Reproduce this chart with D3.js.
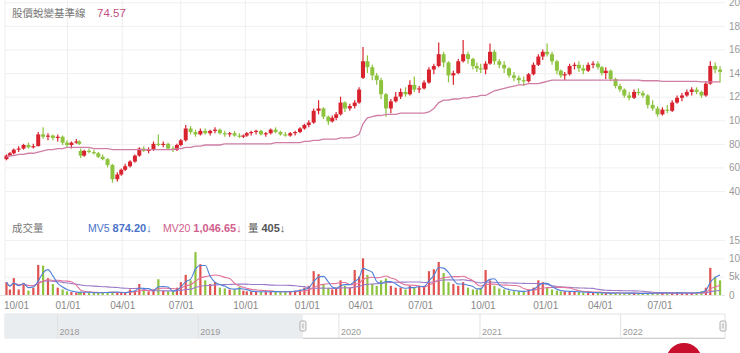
<!DOCTYPE html>
<html><head><meta charset="utf-8">
<script src="https://cdn.jsdelivr.net/npm/d3@7"></script>
<style>
html,body{margin:0;padding:0;background:#fff;overflow:hidden}
svg{display:block;font-family:"Liberation Sans","Noto Sans CJK TC",sans-serif}
</style></head><body>
<svg id="c" width="740" height="353"></svg>
<script>
// ---------- data ----------
const startDate = "2019-10-01", endDate = "2022-09-30", firstWeek = "2019-09-30";
const navStart = "2017-08-19";
const holidays = ["2019-10-10","2019-10-11",
"2020-01-01","2020-01-21","2020-01-22","2020-01-23","2020-01-24","2020-01-27","2020-01-28","2020-01-29","2020-02-28","2020-04-02","2020-04-03","2020-05-01","2020-06-25","2020-06-26","2020-10-01","2020-10-02","2020-10-09",
"2021-01-01","2021-02-08","2021-02-09","2021-02-10","2021-02-11","2021-02-12","2021-02-15","2021-02-16","2021-03-01","2021-04-02","2021-04-05","2021-04-30","2021-06-14","2021-09-20","2021-09-21","2021-10-11","2021-12-31",
"2022-01-27","2022-01-28","2022-01-31","2022-02-01","2022-02-02","2022-02-03","2022-02-04","2022-02-28","2022-04-04","2022-04-05","2022-05-02","2022-06-03","2022-09-09"];
// weekly [open, high, low, close]
const ohlc = [
[67,71,66,70],[70,73,69,72],[72,76,71,75],[75,78,73,76],[76,80,75,79],[79,81,76,77],[77,80,76,78],[78,90,78,88],[88,94,84,86],[86,89,83,87],
[87,88,83,85],[85,88,82,86],[86,87,79,81],[81,83,77,79],[79,82,76,81],[81,84,80,82],[82,83,79,80],[74,76,68,70],[70,75,69,74],[74,76,72,73],
[73,75,71,72],[72,73,68,69],[69,71,66,67],[67,68,60,62],[62,63,47,50],[50,56,48,54],[54,59,53,58],[58,63,57,61],[61,66,60,65],[65,71,64,70],
[70,77,69,76],[76,78,73,74],[74,77,72,75],[75,82,74,80],[80,88,78,79],[79,82,77,80],[80,81,75,76],[76,78,73,75],[75,80,74,79],[79,84,78,83],
[83,96,82,93],[93,95,88,90],[90,92,86,88],[88,93,87,91],[91,93,88,89],[89,92,87,91],[91,94,89,92],[92,93,88,89],[89,91,86,88],[88,90,86,89],
[89,91,86,87],[87,89,85,86],[86,88,85,87],[87,90,86,89],[89,91,87,90],[90,92,88,91],[91,92,87,88],[88,90,86,89],[89,93,88,92],[92,94,89,90],
[90,91,87,88],[88,90,86,87],[87,90,86,89],[89,91,87,90],[90,94,89,93],[93,97,92,96],[96,100,94,98],[98,110,97,108],[108,117,105,110],[110,111,101,103],
[103,104,96,99],null,[99,104,98,102],[102,107,100,105],[105,120,104,115],[115,116,107,110],[110,114,108,112],[112,117,110,115],[115,128,114,126],[136,162,135,150],
[150,155,140,145],[145,147,134,138],[138,140,130,134],[134,136,118,122],[122,123,103,110],[110,118,106,116],[116,124,115,120],[120,127,118,124],[124,128,120,122],[122,134,121,130],
[130,137,124,126],[126,129,123,127],[127,134,126,132],[132,145,131,143],[143,148,139,146],[146,166,145,156],[156,158,145,149],[149,150,132,138],[138,142,130,140],[140,152,139,150],
[150,168,149,156],[156,158,148,152],[152,153,143,146],[146,149,141,144],[144,148,140,143],[143,150,139,148],[148,165,147,158],[158,160,147,150],[150,152,144,147],[147,150,140,144],
[144,145,136,138],[138,141,133,136],[136,138,131,134],[134,137,129,133],[133,140,132,139],[139,149,138,147],[147,156,146,154],[154,160,151,158],[158,165,154,156],[156,158,147,150],
[150,151,139,142],[142,143,136,138],null,[138,141,134,139],[139,148,138,146],[146,149,143,147],[147,150,141,144],[144,147,139,142],[142,149,141,147],[147,150,144,148],
[148,150,143,145],[145,146,138,140],[140,145,135,142],[142,143,133,135],[135,136,127,129],[129,131,124,126],[126,127,119,121],[121,124,117,119],[119,126,118,124],[124,127,121,123],
[123,125,119,121],[121,122,110,113],[113,117,108,110],[110,112,103,105],[105,111,104,109],[109,113,106,108],[108,117,107,115],[115,121,114,119],[119,123,116,121],[121,126,120,124],
[124,128,121,126],[126,128,122,124],[124,125,119,121],[121,133,120,131],[131,150,130,146],[146,149,140,143],[143,146,132,141]];
// baseline (pink) line, weekly
const baseLine = [
69,70,70,71,71,72,72,73,74,75, 75,76,76,77,77,77,77,77,77,77, 76,76,76,76,75,75,75,75,75,75,
75,75,75,75,75,75,75,75,76,76, 77,77,78,78,79,79,79,79,80,80, 80,80,80,80,80,80,80,80,80,81,
81,81,81,81,81,82,82,83,83,84, 84,null,84,84,85,85,85,86,88,97, 102,103,104,104,105,105,105,106,106,106,
106,106,106,107,110,115,117,117,118,118, 119,119,120,120,121,121,123,125,126,127,
128,129,130,130,131,131,131,132,133,134, 134,134,null,134,134,134,134,134,134,134,
134,134,134,134,134,134,134,134,134,134, 133.5,133.5,133.5,133.5,133,133,133,133,133,133,
133,133,132.5,132.5,132.5,132.5,132.5];
// weekly volume (thousand lots)
const volume = [
3.5,1.5,4.6,1.5,3.3,1.2,2.0,8.2,8.0,4.6, 3.0,2.0,1.5,1.0,0.8,0.7,0.6,0.9,0.7,0.6,
0.6,0.7,0.6,0.8,0.9,0.7,0.6,0.6,1.5,1.2, 3.0,1.2,1.0,1.5,4.3,1.2,1.0,1.0,2.0,3.5,
5.5,4.0,11.7,8.4,4.0,3.0,3.5,2.0,1.8,1.5, 1.5,2.2,1.2,1.0,1.0,0.9,0.8,0.9,1.0,0.9,
0.8,0.9,1.0,1.2,1.5,2.0,2.5,6.5,5.7,3.0, 2.0,null,1.5,2.0,4.0,2.5,2.0,6.8,5.0,10.0,
5.5,3.0,2.5,4.0,4.5,2.5,2.0,2.0,1.5,2.5, 2.0,2.5,2.5,6.5,7.0,9.0,6.0,3.5,3.0,2.5,
3.5,2.0,1.5,1.5,2.0,6.8,4.0,2.5,1.8,1.5, 1.2,1.0,1.0,1.0,1.5,2.0,4.0,3.5,2.0,1.5,
1.2,1.0,null,1.0,1.0,0.9,0.8,0.7,0.7,0.6, 0.6,0.5,0.5,0.5,0.6,0.5,0.5,0.5,0.5,0.4,
0.4,0.5,0.5,0.6,0.5,0.5,0.6,0.6,0.5,0.5, 0.6,0.7,1.0,2.0,7.4,5.0,4.0];
const priceTicks = [40,60,80,100,120,140,160,180,200];
const volTicks = [0,5000,10000,15000];
const volTickLabels = ["0","5k","10k","15k"];
const monthTicks = ["2019-10-01","2020-01-01","2020-04-01","2020-07-01","2020-10-01","2021-01-01","2021-04-01","2021-07-01","2021-10-01","2022-01-01","2022-04-01","2022-07-01"];
const navYears = ["2018-01-01","2019-01-01","2020-01-01","2021-01-01","2022-01-01"];
const titleText = "股價蛻變基準線", titleValue = "74.57";
const volLegend = [
 {label:"成交量", value:"", color:"#777"},
 {label:"MV5 ", value:"874.20↓", color:"#4a73c8"},
 {label:"MV20 ", value:"1,046.65↓", color:"#d0608c"},
 {label:"量 ", value:"405↓", color:"#555"}];

// ---------- scales ----------
const parse = d3.timeParse("%Y-%m-%d"), fmt = d3.timeFormat("%Y-%m-%d");
const hol = new Set(holidays);
const days = d3.timeDay.range(parse(startDate), d3.timeDay.offset(parse(endDate),1))
  .filter(d => d.getDay()>0 && d.getDay()<6 && !hol.has(fmt(d)));
const x = d3.scaleLinear().domain([0, days.length-1]).range([5, 722]);
const yP = d3.scaleLinear().domain([40,200]).range([191, 2.3]);
const yV = d3.scaleLinear().domain([0,15000]).range([295, 240]);
const weekIdx = new Map();
days.forEach((d,i)=>{const k=+d3.timeMonday.floor(d); if(!weekIdx.has(k)) weekIdx.set(k,[]); weekIdx.get(k).push(i);});
const weeks = d3.timeMonday.range(parse(firstWeek), d3.timeDay.offset(parse(endDate),1));
const bars = weeks.map((w,k)=>{
  const idx = weekIdx.get(+w); const q = ohlc[k];
  if(!idx || !q) return null;
  return {xc:x(d3.mean(idx)), o:q[0], h:q[1], l:q[2], c:q[3], v:volume[k]*1000, b:baseLine[k]};
}).filter(Boolean);
const ma = (n) => bars.map((d,i)=>d3.mean(bars.slice(Math.max(0,i-n+1), i+1), e=>e.v));
const mvA = ma(3), mvB = ma(8), mvC = ma(24);

const svg = d3.select("#c");
const UP="#d8232f", DN="#8dc33f";

// ---------- grid ----------
const tickIdx = monthTicks.map(m => d3.bisector(d=>d).left(days, parse(m)));
svg.append("g").selectAll("line").data(tickIdx).join("line")
  .attr("x1",d=>x(d)).attr("x2",d=>x(d)).attr("y1",0).attr("y2",295)
  .attr("stroke","#eeeeee");
svg.append("g").attr("transform","translate(725,0)")
  .call(d3.axisLeft(yP).tickValues(priceTicks).tickSize(720).tickFormat(""))
  .call(g=>{g.select(".domain").remove(); g.selectAll("line").attr("stroke","#f0f0f0");});
svg.append("g").attr("transform","translate(725,0)")
  .call(d3.axisLeft(yV).tickValues(volTicks.slice(1)).tickSize(720).tickFormat(""))
  .call(g=>{g.select(".domain").remove(); g.selectAll("line").attr("stroke","#f0f0f0");});

// ---------- price ----------
const cg = svg.append("g");
cg.selectAll("line").data(bars).join("line")
  .attr("x1",d=>d.xc).attr("x2",d=>d.xc).attr("y1",d=>yP(d.h)).attr("y2",d=>yP(d.l))
  .attr("stroke",d=>d.c>=d.o?UP:DN).attr("stroke-width",1.2);
cg.selectAll("rect").data(bars).join("rect")
  .attr("x",d=>d.xc-2).attr("width",4)
  .attr("y",d=>yP(Math.max(d.o,d.c))).attr("height",d=>Math.max(1,Math.abs(yP(d.o)-yP(d.c))))
  .attr("fill",d=>d.c>=d.o?UP:DN);
svg.append("path").datum(bars.filter(d=>d.b!=null))
  .attr("d",d3.line().x(d=>d.xc).y(d=>yP(d.b)))
  .attr("fill","none").attr("stroke","#cf7ea6").attr("stroke-width",1.3);

// ---------- volume ----------
svg.append("g").selectAll("rect").data(bars).join("rect")
  .attr("x",d=>d.xc-1.1).attr("width",2.2)
  .attr("y",d=>yV(d.v)).attr("height",d=>yV(0)-yV(d.v))
  .attr("fill",d=>d.c>=d.o?"#e0524f":"#8dc33f");
[[mvC,"#9c7ac8"],[mvB,"#e2729a"],[mvA,"#4f80da"]].forEach(([arr,col])=>{
  svg.append("path").datum(arr)
    .attr("d",d3.line().x((d,i)=>bars[i].xc).y(d=>yV(d)).curve(d3.curveMonotoneX))
    .attr("fill","none").attr("stroke",col).attr("stroke-width",1.1);
});
svg.append("line").attr("x1",0).attr("x2",725).attr("y1",295.5).attr("y2",295.5).attr("stroke","#e4e4e4");

// ---------- axes ----------
const axStyle = g => { g.select(".domain").remove(); g.selectAll("text").attr("fill","#999").style("font-size","10px"); };
svg.append("g").attr("transform","translate(729,0)")
  .call(d3.axisRight(yP).tickValues(priceTicks).tickSize(0).tickPadding(0)).call(axStyle);
svg.append("g").attr("transform","translate(729,0)")
  .call(d3.axisRight(yV).tickValues(volTicks).tickSize(0).tickPadding(0).tickFormat((d,i)=>volTickLabels[i])).call(axStyle);
const xa = svg.append("g").attr("transform","translate(0,299)")
  .call(d3.axisBottom(x).tickValues(tickIdx).tickSize(0).tickPadding(3)
  .tickFormat((d,i)=>d3.timeFormat("%m/%d")(parse(monthTicks[i])))).call(axStyle);
xa.selectAll("text").attr("fill","#888").each(function(){
  const b=this.getBBox(), t=d3.select(this.parentNode).attr("transform");
  const tx=+t.match(/translate\(([-\d.]+)/)[1];
  if(tx+b.x<4) d3.select(this).attr("x",4-(tx+b.x));
});

// ---------- legends ----------
const t1 = svg.append("text").attr("x",12).attr("y",17).style("font-size","10.5px");
t1.append("tspan").attr("fill","#777").text(titleText);
t1.append("tspan").attr("x",97).attr("fill","#c2507f").style("font-size","11.5px").text(titleValue);
const lx = [12, 88, 163, 248];
volLegend.forEach((L,i)=>{
  const t = svg.append("text").attr("x",lx[i]).attr("y",232).style("font-size","10.5px").attr("fill",L.color);
  t.append("tspan").text(L.label);
  if(L.value) t.append("tspan").style("font-weight","bold").style("font-size","11px").text(L.value);
});

// ---------- navigator ----------
const nav = d3.scaleTime().domain([parse(navStart), parse(endDate)]).range([5,725]);
const selX = nav(parse(startDate));
svg.append("rect").attr("x",5).attr("y",314).attr("width",720).attr("height",24).attr("fill","#fff").attr("stroke","#e3e3e3");
svg.append("rect").attr("x",5).attr("y",314).attr("width",selX-5).attr("height",24).attr("fill","#eaedf0");
svg.append("g").attr("transform","translate(0,314)")
  .call(d3.axisBottom(nav).tickValues(navYears.map(parse)).tickSize(24).tickFormat(d3.timeFormat("%Y")))
  .call(g=>{g.select(".domain").remove(); g.selectAll("line").attr("stroke","#e2e2e2");
    g.selectAll("text").attr("fill","#999").style("font-size","9px").attr("text-anchor","start").attr("x",2).attr("y",15).attr("dy","0.71em");});
svg.append("line").attr("x1",selX).attr("x2",725).attr("y1",338.5).attr("y2",338.5).attr("stroke","#cfcfcf");
[selX, nav(parse(endDate))-2].forEach(hx=>{
  svg.append("rect").attr("x",hx-3).attr("y",321).attr("width",6).attr("height",10).attr("rx",1.5)
    .attr("fill","#f4f4f4").attr("stroke","#9a9a9a").attr("stroke-width",0.8);
  svg.append("line").attr("x1",hx).attr("x2",hx).attr("y1",323.5).attr("y2",328.5).attr("stroke","#9a9a9a").attr("stroke-width",0.8);
});

// ---------- floating button ----------
svg.append("circle").attr("cx",684).attr("cy",361).attr("r",18).attr("fill","#c8102e");
</script>
</body></html>
